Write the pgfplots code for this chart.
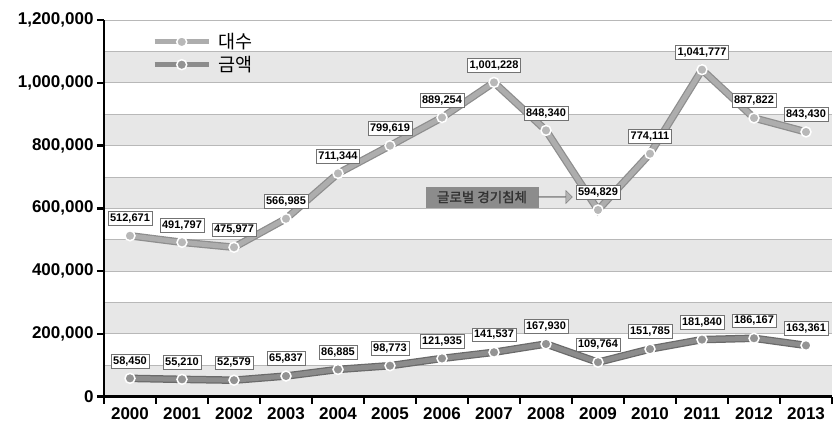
\documentclass[border=0pt]{standalone}
\usepackage{pgfplots}
\pgfplotsset{compat=1.18}
\usepackage{pgfplotstable}
\usepackage{fontspec}
\setmainfont{Liberation Sans}
\newfontfamily\kr{Noto Sans CJK KR}
\newfontfamily\krb[FakeBold=1.5]{Noto Sans CJK KR}
\usetikzlibrary{shapes.arrows}
\definecolor{bandgray}{HTML}{E7E7E7}
\definecolor{gridgray}{HTML}{B8B8B8}
\definecolor{upouter}{HTML}{8E8E8E}
\definecolor{upinner}{HTML}{ADADAD}
\definecolor{upmark}{HTML}{B8B8B8}
\definecolor{lowouter}{HTML}{6A6A6A}
\definecolor{lowinner}{HTML}{8C8C8C}
\definecolor{lowmark}{HTML}{939393}
\definecolor{annogray}{HTML}{8C8C8C}

\pgfplotstableread{
x y lab
0 512671 512,671
1 491797 491,797
2 475977 475,977
3 566985 566,985
4 711344 711,344
5 799619 799,619
6 889254 889,254
7 1001228 1,001,228
8 848340 848,340
9 594829 594,829
10 774111 774,111
11 1041777 1,041,777
12 887822 887,822
13 843430 843,430
}\uptab

\pgfplotstableread{
x y lab
0 58450 58,450
1 55210 55,210
2 52579 52,579
3 65837 65,837
4 86885 86,885
5 98773 98,773
6 121935 121,935
7 141537 141,537
8 167930 167,930
9 109764 109,764
10 151785 151,785
11 181840 181,840
12 186167 186,167
13 163361 163,361
}\lowtab

\begin{document}
\begin{tikzpicture}
\path[use as bounding box] (0,0) rectangle (833pt,423pt);
\begin{axis}[
  at={(104pt,26.3pt)}, anchor=south west,
  scale only axis, width=728pt, height=376.7pt,
  xmin=-0.5, xmax=13.5, ymin=0, ymax=1200000,
  clip=false, axis on top,
  axis x line*=bottom, axis y line*=left,
  axis line style={line width=2.8pt, black},
  tick align=outside,
  major tick length=7pt, minor tick length=7pt,
  tick style={line width=2.5pt, black},
  xtick={0,1,2,3,4,5,6,7,8,9,10,11,12,13},
  xticklabels={2000,2001,2002,2003,2004,2005,2006,2007,2008,2009,2010,2011,2012,2013},
  major x tick style={draw=none},
  minor xtick={-0.5,0.5,1.5,2.5,3.5,4.5,5.5,6.5,7.5,8.5,9.5,10.5,11.5,12.5,13.5},
  ytick={0,200000,400000,600000,800000,1000000,1200000},
  yticklabels={0,{200,000},{400,000},{600,000},{800,000},{1,000,000},{1,200,000}},
  scaled y ticks=false,
  ticklabel style={font=\fontsize{17}{20}\selectfont\bfseries},
  /pgf/number format/assume math mode=true,
  legend style={at={(0.066,0.97)}, anchor=north west, draw=none, fill=none,
    font=\kr\fontsize{18.5}{21}\selectfont, row sep=2pt, inner sep=0pt},
  legend cell align=left,
  legend image code/.code={\draw[mark repeat=2,mark phase=2,#1] plot coordinates {(0pt,0pt) (27pt,0pt) (54pt,0pt)};},
]
% bands
\fill[bandgray] (axis cs:-0.5,0) rectangle (axis cs:13.5,100000);
\fill[bandgray] (axis cs:-0.5,200000) rectangle (axis cs:13.5,300000);
\fill[bandgray] (axis cs:-0.5,400000) rectangle (axis cs:13.5,500000);
\fill[bandgray] (axis cs:-0.5,600000) rectangle (axis cs:13.5,700000);
\fill[bandgray] (axis cs:-0.5,800000) rectangle (axis cs:13.5,900000);
\fill[bandgray] (axis cs:-0.5,1000000) rectangle (axis cs:13.5,1100000);
\pgfplotsinvokeforeach{100000,200000,300000,400000,500000,600000,700000,800000,900000,1000000,1100000,1200000}{
  \draw[gridgray, line width=0.9pt] (axis cs:-0.5,#1) -- (axis cs:13.5,#1);
}
% upper series
\addplot[color=upouter, line width=7.5pt, forget plot] table[x=x,y=y]{\uptab};
\addplot[color=upinner, line width=5pt, mark=*, mark size=5pt,
  mark options={fill=upmark, draw=white, line width=1.5pt},
  nodes near coords, point meta=explicit symbolic,
  every node near coord/.style={anchor=south, yshift=10pt, fill=white, draw=black!55,
    line width=0.8pt, inner sep=2.2pt, text=black, font=\fontsize{11}{12}\selectfont\bfseries}]
  table[x=x,y=y,meta=lab]{\uptab};
\addlegendentry{\hspace{5pt}대수}
% lower series
\addplot[color=lowouter, line width=7.5pt, forget plot] table[x=x,y=y]{\lowtab};
\addplot[color=lowinner, line width=5pt, mark=*, mark size=5pt,
  mark options={fill=lowmark, draw=white, line width=1.5pt},
  nodes near coords, point meta=explicit symbolic,
  every node near coord/.style={anchor=south, yshift=10pt, fill=white, draw=black!55,
    line width=0.8pt, inner sep=2.2pt, text=black, font=\fontsize{11}{12}\selectfont\bfseries}]
  table[x=x,y=y,meta=lab]{\lowtab};
\addlegendentry{\hspace{5pt}금액}
% annotation
\node[fill=annogray, text=black!80, font=\krb\fontsize{13.5}{15}\selectfont,
  minimum height=21pt, minimum width=113pt, inner sep=3pt]
  at (axis cs:6.77,636000) {글로벌 경기침체};
\node[single arrow, draw=black!55, fill=black!30, minimum height=34pt, minimum width=13pt,
  single arrow head extend=2.5pt, inner sep=0pt, anchor=west]
  at (axis cs:7.85,636000) {};
\end{axis}
\end{tikzpicture}
\end{document}
